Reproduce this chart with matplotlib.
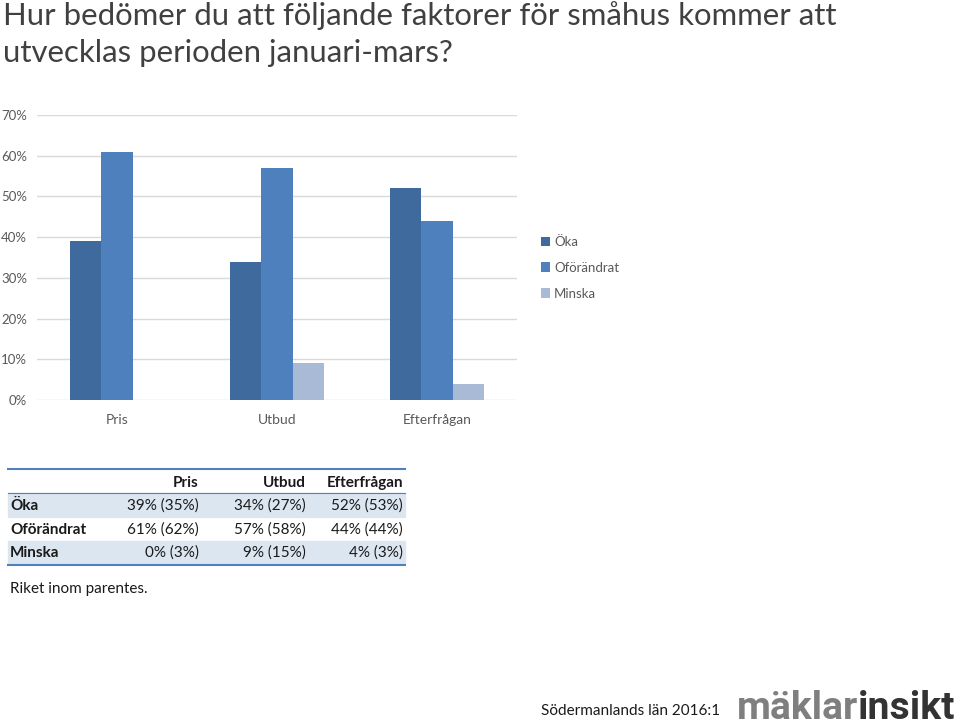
import matplotlib
matplotlib.use("Agg")
import matplotlib.pyplot as plt
from matplotlib.patches import Rectangle
from matplotlib.lines import Line2D
import numpy as np

plt.rcParams['font.family'] = ['Lato', 'DejaVu Sans']

categories = ["Pris", "Utbud", "Efterfrågan"]
series_names = ["Öka", "Oförändrat", "Minska"]
oka = [39, 34, 52]
oforandrat = [61, 57, 44]
minska = [0, 9, 4]
riket_oka = [35, 27, 53]
riket_oforandrat = [62, 58, 44]
riket_minska = [3, 15, 3]
yticks = [0, 10, 20, 30, 40, 50, 60, 70]

colors = ["#3F6A9E", "#4E80BD", "#A9BAD6"]

W, H = 960, 727
fig = plt.figure(figsize=(W / 100, H / 100), dpi=100)

def fx(x):
    return x / W

def fy(y):
    return 1 - y / H

# Title
fig.text(fx(3), fy(16), "Hur bedömer du att följande faktorer för småhus kommer att",
         fontsize=22.4, color="#404040", va="center", ha="left")
fig.text(fx(3), fy(53), "utvecklas perioden januari-mars?",
         fontsize=22.4, color="#404040", va="center", ha="left")

# Chart axes
ax = fig.add_axes([fx(37), fy(400), fx(517) - fx(37), fy(115) - fy(400)])
x = np.arange(len(categories))
bw = 0.194
for i, (vals, c) in enumerate(zip([oka, oforandrat, minska], colors)):
    ax.bar(x + (i - 1) * bw, vals, width=bw, color=c, label=series_names[i], zorder=3)
ax.set_xlim(-0.5, 2.5)
ax.set_ylim(0, 70)
ax.set_yticks(yticks)
ax.set_yticklabels([f"{v}%" for v in yticks])
ax.set_xticks(x)
ax.set_xticklabels(categories)
ax.yaxis.grid(True, color="#D9D9D9", linewidth=1, zorder=0)
for s in ax.spines.values():
    s.set_visible(False)
ax.tick_params(axis="both", length=0, labelsize=9.5, colors="#595959")
ax.tick_params(axis="x", labelsize=10, pad=10)
ax.tick_params(axis="y", pad=7)

# Legend
leg = fig.legend(loc="upper left", bbox_to_anchor=(fx(529), fy(224)), frameon=False,
                 fontsize=9.5, handlelength=0.7, handleheight=0.7, handletextpad=0.3,
                 labelspacing=1.05, labelcolor="#595959")

# Table
tx0, tx1 = 8, 405
fig.patches.append(Rectangle((fx(tx0), fy(517)), fx(tx1) - fx(tx0), fy(493) - fy(517),
                             transform=fig.transFigure, color="#DCE6F1", zorder=0))
fig.patches.append(Rectangle((fx(tx0), fy(564)), fx(tx1) - fx(tx0), fy(541) - fy(564),
                             transform=fig.transFigure, color="#DCE6F1", zorder=0))
fig.lines.append(Line2D([fx(tx0), fx(tx1)], [fy(469), fy(469)], transform=fig.transFigure,
                        color="#4F81BD", linewidth=1.5))
fig.lines.append(Line2D([fx(tx0), fx(tx1)], [fy(493), fy(493)], transform=fig.transFigure,
                        color="#4F81BD", linewidth=0.8))
fig.lines.append(Line2D([fx(tx0), fx(tx1)], [fy(565), fy(565)], transform=fig.transFigure,
                        color="#4F81BD", linewidth=1.5))

col_right = [199, 306, 403]
tfs = 11
for cx, cat in zip(col_right, categories):
    fig.text(fx(cx), fy(483), cat, ha="right", va="center", fontsize=tfs,
             fontweight="bold", color="#1a1a1a")
rows = [(series_names[0], oka, riket_oka, 506),
        (series_names[1], oforandrat, riket_oforandrat, 530),
        (series_names[2], minska, riket_minska, 553)]
for name, vals, rvals, ry in rows:
    fig.text(fx(10), fy(ry), name, ha="left", va="center", fontsize=tfs,
             fontweight="bold", color="#1a1a1a")
    for cx, v, r in zip(col_right, vals, rvals):
        fig.text(fx(cx), fy(ry), f"{v}% ({r}%)", ha="right", va="center",
                 fontsize=tfs, color="#1a1a1a")

fig.text(fx(10), fy(589), "Riket inom parentes.", ha="left", va="center",
         fontsize=tfs, color="#1a1a1a")

# Footer
fig.text(fx(541), fy(711), "Södermanlands län 2016:1", ha="left", va="center",
         fontsize=11, color="#1a1a1a")

logo_font = ['Roboto', 'DejaVu Sans']
fs = 32
renderer = fig.canvas.get_renderer()
t1 = fig.text(fx(737), fy(719), "mäklar", ha="left", va="baseline", fontsize=fs,
              fontweight="bold", color="#7F7F7F", family=logo_font)
t2 = fig.text(fx(800), fy(719), "insikt", ha="left", va="baseline", fontsize=fs,
              fontweight="bold", color="#333333", family=logo_font)
w_total = t1.get_window_extent(renderer).width + t2.get_window_extent(renderer).width
fs = fs * 218 / w_total
t1.set_fontsize(fs)
t2.set_fontsize(fs)
bb = t1.get_window_extent(renderer)
t2.set_x(bb.x1 / W)

fig.savefig("out.png", dpi=100)
